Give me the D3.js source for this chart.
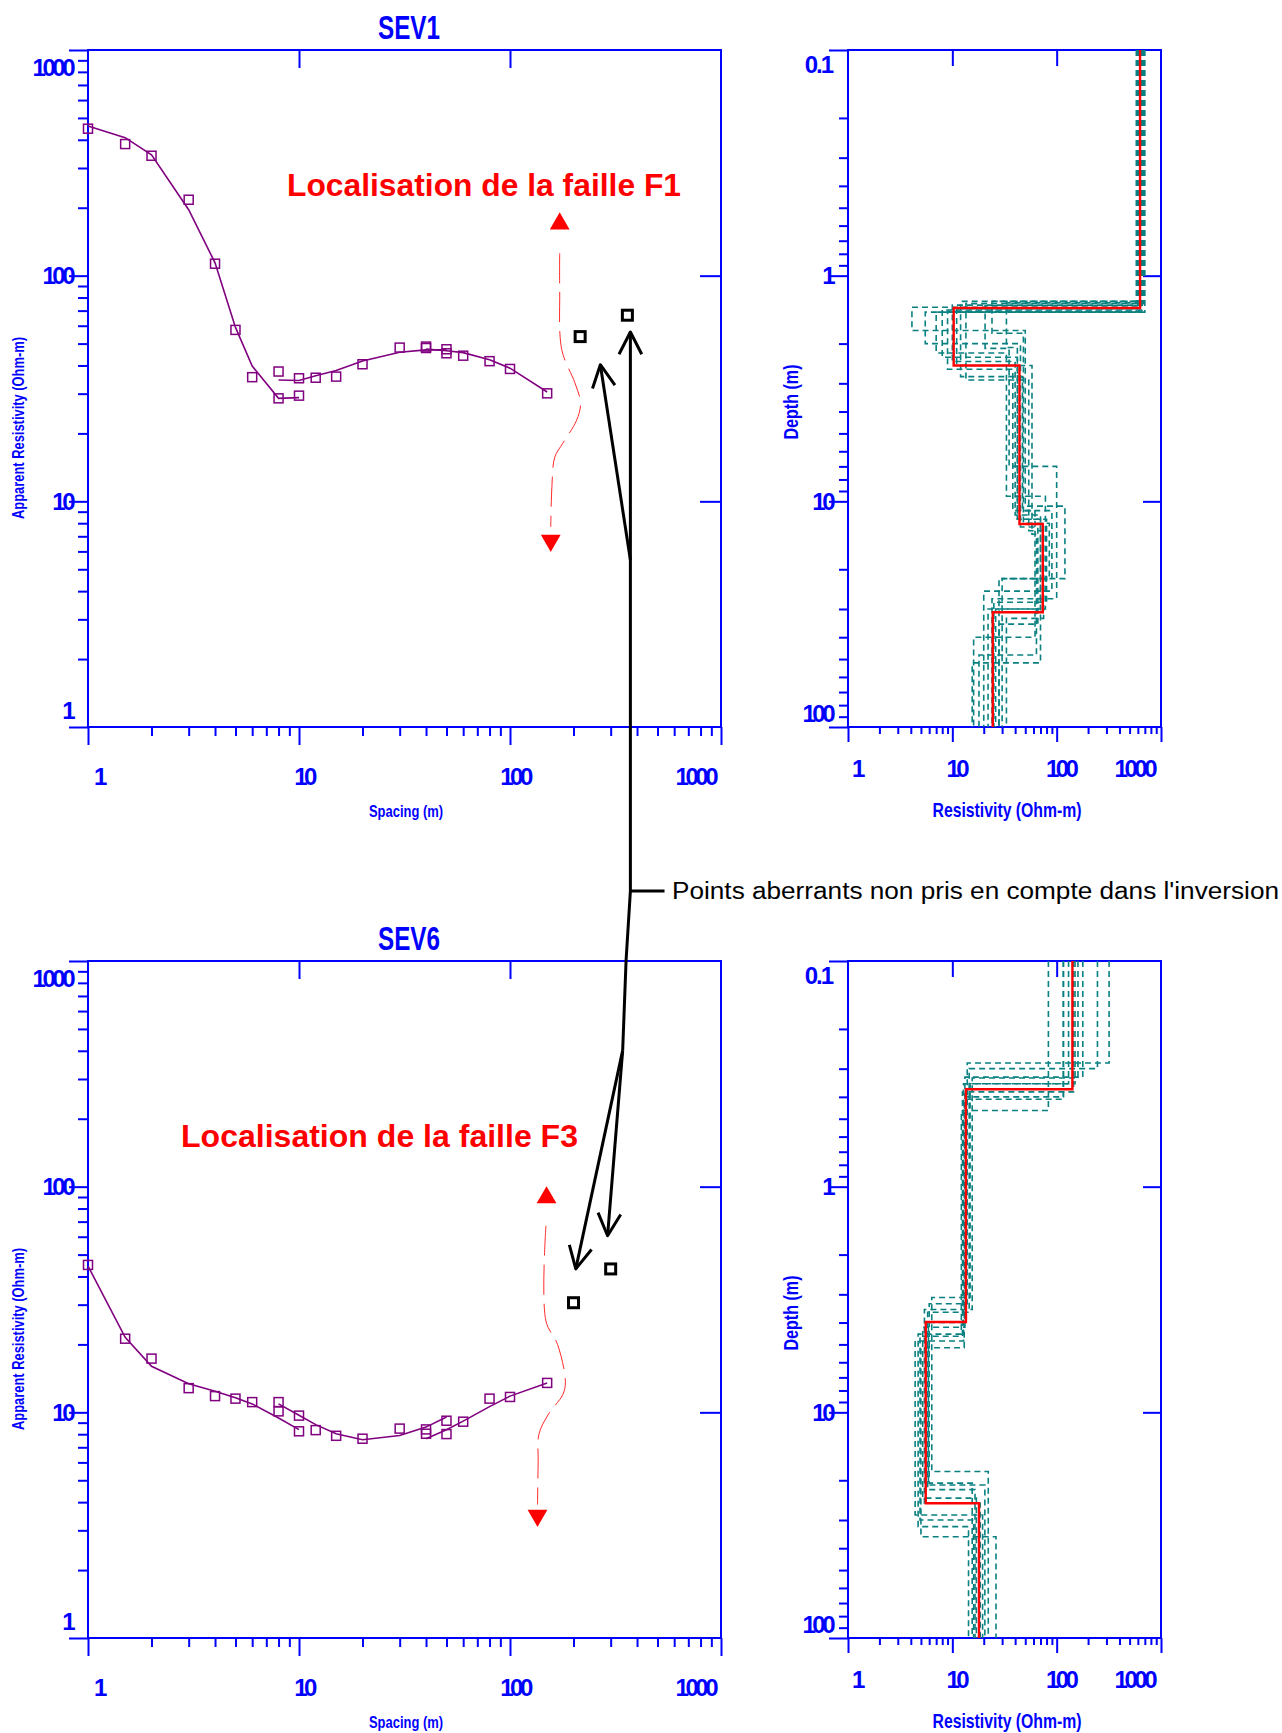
<!DOCTYPE html>
<html>
<head>
<meta charset="utf-8">
<script src="https://cdn.jsdelivr.net/npm/d3@7"></script>
<style>
  body { margin: 0; background: #fff; }
  svg { display: block; }
</style>
</head>
<body>
<svg id="fig" width="1282" height="1733"></svg>
<script>
// ---------------- Data ----------------
// SEV1 field data: AB/2 spacing (m) and apparent resistivity (Ohm.m)
const sev1Spacing = [1, 1.5, 2, 3, 4, 5, 6, 8, 10, 8, 10, 12, 15, 20, 30, 40, 50, 40, 50, 60, 80, 100, 150];
const sev1Rho     = [448, 383, 340, 217, 113, 57.5, 35.5, 28.6, 29.4, 37.6, 35.1, 35.3, 35.7, 40.5, 48, 48.5, 47.2, 47.8, 45.3, 44.2, 41.8, 38.6, 30.1];
// SEV1 computed response, one branch per MN segment
const sev1FitSpacing = [[1, 1.5, 2, 3, 4, 5, 6, 8, 10], [8, 10, 12, 15, 20, 30, 40, 50], [40, 50, 60, 80, 100, 150]];
const sev1FitRho     = [[461, 409, 343, 196, 114, 59, 39.8, 28.6, 28.8], [34.5, 34.3, 36, 38, 41.9, 45.8, 46.9, 46.9], [47.3, 46.5, 45.6, 42.4, 38.9, 30.5]];
// SEV1 rejected readings
const sev1OutSpacing = [215, 360];
const sev1OutRho     = [53.7, 66.8];

// SEV6 field data
const sev6Spacing = [1, 1.5, 2, 3, 4, 5, 6, 8, 10, 8, 10, 12, 15, 20, 30, 40, 50, 40, 50, 60, 80, 100, 150];
const sev6Rho     = [45, 21.2, 17.3, 12.8, 11.8, 11.5, 11.1, 10.1, 8.24, 11.1, 9.67, 8.34, 7.87, 7.64, 8.47, 8.4, 9.18, 8.04, 8.01, 9.09, 11.5, 11.7, 13.5];
const sev6FitSpacing = [[1, 1.5, 2, 3, 4, 5, 6, 8, 10], [8, 10, 12, 15, 20, 30, 40, 50], [40, 50, 60, 80, 100, 150]];
const sev6FitRho     = [[44.5, 21.5, 16, 13.4, 12.4, 11.6, 10.9, 9.44, 8.38], [10.9, 9.7, 8.82, 8.04, 7.56, 7.9, 8.6, 9.53], [7.64, 8.38, 9.14, 10.6, 11.8, 13.5]];
const sev6OutSpacing = [200, 300];
const sev6OutRho     = [30.6, 43.2];

// Layered models: resistivity per layer (Ohm.m) and interface depths (m)
const sev1ModelRho   = [630, 10.3, 44, 73.6, 24.4];
const sev1ModelDepth = [1.39, 2.5, 12.6, 31];
const sev1EquivRho = [
  [600, 10, 40, 70, 22], [660, 8, 42, 80, 25], [700, 5.5, 45, 66, 28], [580, 12, 47, 90, 20],
  [640, 4.1, 50, 120, 30], [620, 9, 38, 62, 16], [680, 13.5, 54, 75, 33], [650, 20.6, 35, 100, 24],
  [610, 11, 58, 64, 18], [690, 24, 48, 85, 28], [645, 7, 33, 78, 26], [600, 33, 42, 70, 15.5]
];
const sev1EquivDepth = [
  [1.35, 2.4, 11.5, 30], [1.42, 2.3, 12, 28], [1.45, 2.0, 13, 35], [1.3, 2.8, 11, 25],
  [1.38, 1.75, 10.5, 22], [1.44, 2.6, 11, 40], [1.33, 2.9, 13.5, 33], [1.36, 2.1, 7, 27],
  [1.4, 2.5, 14, 48], [1.3, 1.8, 12.5, 22], [1.45, 2.2, 9.5, 30], [1.32, 2.08, 12, 52]
];
const sev6ModelRho   = [141.5, 13.5, 5.56, 18.0];
const sev6ModelDepth = [0.37, 3.98, 25.3];
const sev6EquivRho = [
  [318, 13.9, 6.0, 15.5], [246, 14.5, 5.8, 16.5], [178, 13.2, 5.2, 17.0], [150, 12.8, 4.4, 19.5],
  [130, 14.8, 6.35, 22.1], [116, 13.0, 5.0, 26.2], [83.3, 12.2, 4.7, 14.3], [160, 15.5, 5.4, 18.5],
  [116, 13.6, 5.9, 20.5], [145, 12.5, 4.9, 16]
];
const sev6EquivDepth = [
  [0.283, 3.3, 20.6], [0.30, 3.6, 22], [0.327, 4.2, 24], [0.35, 4.83, 28.5],
  [0.35, 3.1, 18.3], [0.41, 5.17, 35.6], [0.46, 4.5, 32.1], [0.33, 3.5, 25.3],
  [0.40, 4.0, 21], [0.38, 4.6, 30]
];

// Fault marker traces (spacing, rho) on each sounding curve
const f1TraceSpacing = [172, 172, 176, 203, 216, 207, 178, 163, 158, 156];
const f1TraceRho     = [126, 86.5, 46.9, 33.5, 27.3, 22.9, 18.1, 15.7, 11.6, 7.7];
const f1Heads = { up: [172, 170], down: [156, 6.7] };
const f3TraceSpacing = [148, 148, 168, 183, 178, 152, 137, 136, 135];
const f3TraceRho     = [67.1, 25.4, 20.0, 13.7, 12.0, 9.8, 7.98, 6.05, 3.9];
const f3Heads = { up: [149, 89.4], down: [135, 3.49] };

// Tick labels
const curveTicks = [1, 10, 100, 1000];
const curveTickText = ["1", "10", "100", "1000"];
const depthTicks = [0.1, 1, 10, 100];
const depthTickText = ["0.1", "1", "10", "100"];
const resTicks = [1, 10, 100, 1000];
const resTickText = ["1", "10", "100", "1000"];

// ---------------- Drawing ----------------
const svg = d3.select("#fig");
const BLUE = "#0000ff", PURPLE = "#800080", TEAL = "#0a8080", RED = "#ff0000";
const TICKFONT = "'Liberation Sans', Arial, sans-serif";
const NARROW = "'Liberation Sans Narrow', 'Liberation Sans', Arial, sans-serif";

const isDecade = v => Math.abs(Math.log10(v) - Math.round(Math.log10(v))) < 1e-9;

function styleAxis(g) {
  g.select(".domain").remove();
  g.selectAll("line").attr("stroke", BLUE).attr("stroke-width", 2);
  g.selectAll("text").remove();
}

function drawFrame(g, x, y, o) {
  const [xa, xb] = x.range();
  const ya = Math.min(...y.range()), yb = Math.max(...y.range());
  const yAll = y.ticks(), xAll = x.ticks();
  const yMajor = yAll.filter(isDecade), yMinor = yAll.filter(v => !isDecade(v));
  const xMajor = xAll.filter(isDecade), xMinor = xAll.filter(v => !isDecade(v));
  const yInner = yMajor.slice(1, -1), xInner = xMajor.slice(1, -1);

  g.append("g").attr("transform", `translate(${xa},0)`)
    .call(d3.axisLeft(y).tickValues(yMinor).tickSize(o.minLeft).tickFormat("")).call(styleAxis);
  g.append("g").attr("transform", `translate(${xa},0)`)
    .call(d3.axisLeft(y).tickValues(yMajor).tickSize(o.majLeft).tickFormat("")).call(styleAxis);
  g.append("g").attr("transform", `translate(0,${yb})`)
    .call(d3.axisBottom(x).tickValues(xMinor).tickSize(o.minBottom).tickFormat("")).call(styleAxis);
  g.append("g").attr("transform", `translate(0,${yb})`)
    .call(d3.axisBottom(x).tickValues(xMajor).tickSize(o.majBottom).tickFormat("")).call(styleAxis);
  g.append("g").attr("transform", `translate(0,${ya})`)
    .call(d3.axisTop(x).tickValues(xInner).tickSize(-o.inTop).tickFormat("")).call(styleAxis);
  g.append("g").attr("transform", `translate(${xb},0)`)
    .call(d3.axisRight(y).tickValues(yInner).tickSize(-o.inRight).tickFormat("")).call(styleAxis);

  g.append("rect").attr("x", xa).attr("y", ya).attr("width", xb - xa).attr("height", yb - ya)
    .attr("fill", "none").attr("stroke", BLUE).attr("stroke-width", 2);
}

function tickLabels(g, x, y, xv, xt, yv, yt, o) {
  const [xa] = x.range();
  const ya = Math.min(...y.range()), yb = Math.max(...y.range());
  // y labels, right aligned; end labels pulled inside the frame
  yv.forEach((v, i) => {
    let py = y(v);
    if (Math.abs(py - ya) < 1) py += o.endShift;
    if (Math.abs(py - yb) < 1) py -= o.endShift;
    g.append("text").attr("x", xa - o.yGap).attr("y", py).attr("dy", "0.36em")
      .attr("text-anchor", "end").attr("font-family", TICKFONT).attr("font-weight", "bold")
      .attr("font-size", 24).attr("letter-spacing", yt[i].includes(".") ? "-2px" : "-3.5px")
      .attr("fill", BLUE).text(yt[i]);
  });
  xv.forEach((v, i) => {
    const last = i === xv.length - 1;
    const px = x(v) + (i === 0 ? o.firstDx : last ? -o.lastInset : o.midDx);
    g.append("text").attr("x", px).attr("y", yb + o.xLabelDy).attr("dy", "0.36em")
      .attr("text-anchor", last ? "end" : "middle").attr("font-family", TICKFONT).attr("font-weight", "bold")
      .attr("font-size", 24).attr("letter-spacing", "-3.5px").attr("fill", BLUE).text(xt[i]);
  });
}

function square(g, x, y, xs, ys, opt) {
  g.selectAll(null).data(xs.map((d, i) => [d, ys[i]])).join("rect")
    .attr("x", d => x(d[0]) - opt.size / 2).attr("y", d => y(d[1]) - opt.size / 2)
    .attr("width", opt.size).attr("height", opt.size)
    .attr("fill", opt.fill || "none").attr("stroke", opt.color).attr("stroke-width", opt.sw);
}

function curvePanel(top, title, spacing, rho, fitS, fitR, outS, outR, trS, trR, heads, faultText, faultX, faultY, faultW) {
  const x = d3.scaleLog().domain([1, 1000]).range([88, 721]);
  const y = d3.scaleLog().domain([1, 1000]).range([top + 677, top]);
  const g = svg.append("g");
  drawFrame(g, x, y, { minLeft: 10, majLeft: 19, minBottom: 9, majBottom: 18, inTop: 18, inRight: 21 });
  tickLabels(g, x, y, curveTicks, curveTickText, curveTicks, curveTickText,
    { endShift: 17, yGap: 16, firstDx: 11, midDx: 5, lastInset: 6, xLabelDy: 49 });

  const line = d3.line().x(d => x(d[0])).y(d => y(d[1]));
  fitS.forEach((s, k) => {
    g.append("path").attr("d", line(s.map((v, i) => [v, fitR[k][i]])))
      .attr("fill", "none").attr("stroke", PURPLE).attr("stroke-width", 1.6);
  });
  square(g, x, y, spacing, rho, { size: 9, color: PURPLE, sw: 1.5 });
  square(g, x, y, outS, outR, { size: 10, color: "#000", sw: 3, fill: "#fff" });

  // fault marker: dashed trace with triangles at both ends
  const trace = d3.line().curve(d3.curveCatmullRom.alpha(0.5)).x(d => x(d[0])).y(d => y(d[1]));
  g.append("path").attr("d", trace(trS.map((v, i) => [v, trR[i]])))
    .attr("fill", "none").attr("stroke", "#ff2a2a").attr("stroke-width", 1)
    .attr("stroke-dasharray", "30,9");
  const tri = d3.symbol(d3.symbolTriangle).size(170);
  g.append("path").attr("d", tri()).attr("fill", RED)
    .attr("transform", `translate(${x(heads.up[0])},${y(heads.up[1])})`);
  g.append("path").attr("d", tri()).attr("fill", RED)
    .attr("transform", `translate(${x(heads.down[0])},${y(heads.down[1])}) rotate(180)`);

  g.append("text").attr("x", faultX).attr("y", faultY)
    .attr("font-family", NARROW).attr("font-weight", "bold").attr("font-size", 32)
    .attr("fill", RED).attr("textLength", faultW).attr("lengthAdjust", "spacingAndGlyphs").text(faultText);

  // titles and axis captions
  g.append("text").attr("x", 409).attr("y", top - 23).attr("dy", "0.36em").attr("text-anchor", "middle")
    .attr("font-family", TICKFONT).attr("font-weight", "bold").attr("font-size", 33)
    .attr("fill", BLUE).attr("textLength", 62).attr("lengthAdjust", "spacingAndGlyphs").text(title);
  g.append("text").attr("x", 406).attr("y", top + 677 + 84).attr("dy", "0.36em").attr("text-anchor", "middle")
    .attr("font-family", NARROW).attr("font-weight", "bold").attr("font-size", 17)
    .attr("fill", BLUE).attr("textLength", 74).attr("lengthAdjust", "spacingAndGlyphs").text("Spacing (m)");
  g.append("text").attr("transform", `translate(18,${top + 338 + 40}) rotate(-90)`).attr("dy", "0.36em")
    .attr("text-anchor", "middle").attr("font-family", NARROW).attr("font-weight", "bold").attr("font-size", 17)
    .attr("fill", BLUE).attr("textLength", 182).attr("lengthAdjust", "spacingAndGlyphs")
    .text("Apparent Resistivity (Ohm-m)");
  return { x, y };
}

function stepPoints(rho, depth, dTop, dBot) {
  const pts = [];
  rho.forEach((r, i) => {
    pts.push([r, i === 0 ? dTop : depth[i - 1]]);
    pts.push([r, i < rho.length - 1 ? depth[i] : dBot]);
  });
  return pts;
}

function modelPanel(top, bestRho, bestDepth, eqRho, eqDepth) {
  const x = d3.scaleLog().domain([1, 1000]).range([848, 1161]);
  const y = d3.scaleLog().domain([0.1, 100]).range([top, top + 677]);
  const g = svg.append("g");
  drawFrame(g, x, y, { minLeft: 9, majLeft: 19, minBottom: 7, majBottom: 15, inTop: 16, inRight: 18 });
  tickLabels(g, x, y, resTicks, resTickText, depthTicks, depthTickText,
    { endShift: 14, yGap: 16, firstDx: 9, midDx: 4, lastInset: 7, xLabelDy: 41 });

  const line = d3.line().x(d => x(d[0])).y(d => y(d[1]));
  const [d0, d1] = y.domain();
  eqRho.forEach((r, k) => {
    g.append("path").attr("d", line(stepPoints(r, eqDepth[k], d0, d1)))
      .attr("fill", "none").attr("stroke", TEAL).attr("stroke-width", 1.6)
      .attr("stroke-dasharray", "6,4");
  });
  g.append("path").attr("d", line(stepPoints(bestRho, bestDepth, d0, d1)))
    .attr("fill", "none").attr("stroke", RED).attr("stroke-width", 2.4);

  g.append("text").attr("x", 1007).attr("y", top + 677 + 82).attr("dy", "0.36em").attr("text-anchor", "middle")
    .attr("font-family", NARROW).attr("font-weight", "bold").attr("font-size", 21)
    .attr("fill", BLUE).attr("textLength", 149).attr("lengthAdjust", "spacingAndGlyphs").text("Resistivity (Ohm-m)");
  g.append("text").attr("transform", `translate(791,${top + 338 + 14}) rotate(-90)`).attr("dy", "0.36em")
    .attr("text-anchor", "middle").attr("font-family", NARROW).attr("font-weight", "bold").attr("font-size", 20)
    .attr("fill", BLUE).attr("textLength", 75).attr("lengthAdjust", "spacingAndGlyphs").text("Depth (m)");
}

const A = curvePanel(50, "SEV1", sev1Spacing, sev1Rho, sev1FitSpacing, sev1FitRho, sev1OutSpacing, sev1OutRho,
  f1TraceSpacing, f1TraceRho, f1Heads, "Localisation de la faille F1", 287, 196, 394);
const C = curvePanel(961, "SEV6", sev6Spacing, sev6Rho, sev6FitSpacing, sev6FitRho, sev6OutSpacing, sev6OutRho,
  f3TraceSpacing, f3TraceRho, f3Heads, "Localisation de la faille F3", 181, 1147, 397);
modelPanel(50, sev1ModelRho, sev1ModelDepth, sev1EquivRho, sev1EquivDepth);
modelPanel(961, sev6ModelRho, sev6ModelDepth, sev6EquivRho, sev6EquivDepth);

// ---------------- Callout for the rejected readings ----------------
const pA = d => [A.x(d[0]), A.y(d[1])];
const pC = d => [C.x(d[0]), C.y(d[1])];
const stemTop   = pA([372, 56.3]);
const stemKnee  = pA([372, 0.1875]);
const stemMid   = pC([355, 1010]);
const stemFork  = pC([342, 402]);
const upperFork = pA([372, 5.5]);
const upperTip  = pA([268, 40.3]);
const lowerTipL = pC([205, 43.2]);
const lowerTipR = pC([290, 60.6]);
const branchEnd = pA([540, 0.1875]);

const ann = svg.append("g").attr("fill", "none").attr("stroke", "#000").attr("stroke-width", 3)
  .attr("stroke-linejoin", "round");
const poly = d3.line();
ann.append("path").attr("d", poly([stemTop, stemKnee, stemMid, stemFork]));
ann.append("path").attr("d", poly([stemKnee, branchEnd]));
ann.append("path").attr("d", poly([upperFork, upperTip]));
ann.append("path").attr("d", poly([stemFork, lowerTipL]));
ann.append("path").attr("d", poly([stemFork, lowerTipR]));

function head(tip, from) {
  const a = Math.atan2(tip[1] - from[1], tip[0] - from[0]);
  const L = 25, t = 27 * Math.PI / 180;
  const p1 = [tip[0] - L * Math.cos(a - t), tip[1] - L * Math.sin(a - t)];
  const p2 = [tip[0] - L * Math.cos(a + t), tip[1] - L * Math.sin(a + t)];
  ann.append("path").attr("d", poly([p1, tip, p2]));
}
head(stemTop, stemKnee);
head(upperTip, upperFork);
head(lowerTipL, stemFork);
head(lowerTipR, stemFork);

svg.append("text").attr("x", 672).attr("y", branchEnd[1] + 8)
  .attr("font-family", NARROW).attr("font-size", 23).attr("fill", "#000")
  .attr("textLength", 607).attr("lengthAdjust", "spacingAndGlyphs")
  .text("Points aberrants non pris en compte dans l'inversion");
</script>
</body>
</html>
